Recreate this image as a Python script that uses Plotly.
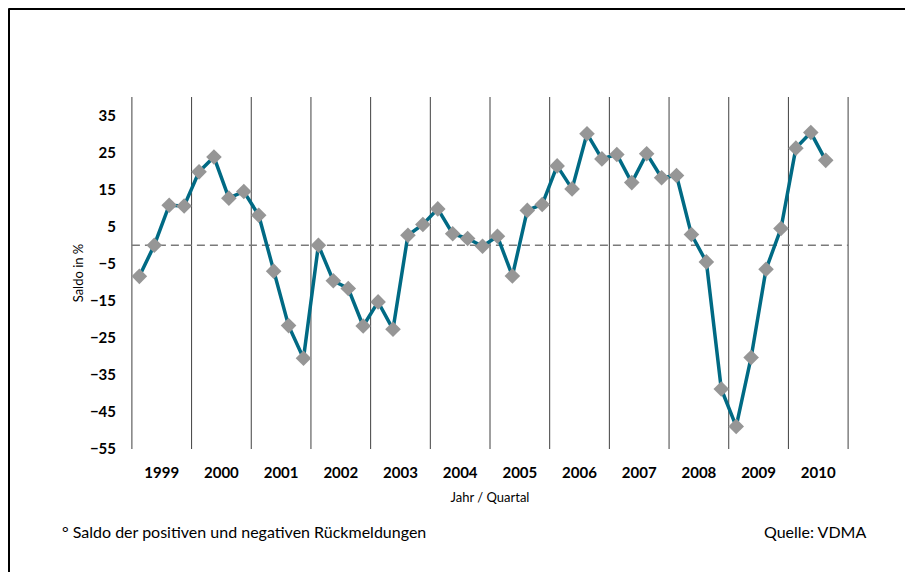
import plotly.graph_objects as go

years = ["1999", "2000", "2001", "2002", "2003", "2004", "2005", "2006",
         "2007", "2008", "2009", "2010"]
quarters = ["Q1", "Q2", "Q3", "Q4"]
saldo = [
    -8.4, 0.0, 10.8, 10.6,      # 1999
    19.8, 23.8, 12.7, 14.5,     # 2000
    8.1, -7.0, -21.7, -30.5,    # 2001
    0.0, -9.6, -11.7, -21.8,    # 2002
    -15.3, -22.7, 2.7, 5.6,     # 2003
    9.8, 3.1, 1.8, -0.3,        # 2004
    2.4, -8.3, 9.4, 11.0,       # 2005
    21.4, 15.2, 30.1, 23.3,     # 2006
    24.5, 16.9, 24.7, 18.2,     # 2007
    18.8, 2.9, -4.5, -38.8,     # 2008
    -48.9, -30.3, -6.5, 4.5,    # 2009
    26.2, 30.4, 22.9,           # 2010
]
y_ticks = [-55, -45, -35, -25, -15, -5, 5, 15, 25, 35]

x_idx = list(range(len(saldo)))
n_slots = len(years) * len(quarters)
year_centers = [i * 4 + 1.5 for i in range(len(years))]
year_bounds = [i * 4 - 0.5 for i in range(len(years) + 1)]

FONT = "Lato, Calibri, Carlito, sans-serif"

fig = go.Figure()
fig.add_trace(go.Scatter(
    x=x_idx, y=saldo, mode="lines+markers",
    line=dict(color="#006A84", width=3.5),
    marker=dict(symbol="diamond", size=12, color="#969696",
                line=dict(width=0)),
    showlegend=False, hoverinfo="y",
))

OFF = 8  # page body margin
W, H = 913 - OFF, 572 - OFF
L, R, T, B = 131 - OFF, 64, 97 - OFF, 123
pw, ph = W - L - R, H - T - B

def px_x(page_px):
    return (page_px - OFF - L) / pw

def px_y(page_py):
    return (H - B - (page_py - OFF)) / ph

# vertical year-boundary lines
shapes = [
    dict(type="line", xref="x", yref="paper", x0=b, x1=b, y0=0, y1=1,
         layer="below", line=dict(color="#404040", width=1))
    for b in year_bounds
]
shapes += [
    dict(type="line", xref="x", yref="y", x0=-0.5, x1=n_slots - 0.5,
         y0=0, y1=0, layer="below",
         line=dict(color="#7a7a7a", width=1.5, dash="8px,5px")),
    dict(type="line", xref="paper", yref="paper",
         x0=px_x(8.5), x1=px_x(930), y0=px_y(8.5), y1=px_y(8.5),
         line=dict(color="black", width=3)),
    dict(type="line", xref="paper", yref="paper",
         x0=px_x(8.5), x1=px_x(8.5), y0=px_y(8.5), y1=px_y(590),
         line=dict(color="black", width=3)),
]

fig.update_layout(
    width=W, height=H,
    margin=dict(l=L, r=R, t=T, b=B, pad=0),
    paper_bgcolor="white", plot_bgcolor="white",
    font=dict(family=FONT, color="black"),
    xaxis=dict(
        range=[-0.56, n_slots - 0.44],
        tickvals=year_centers, ticktext=years,
        tickfont=dict(size=15, family=FONT, weight="bold"),
        showgrid=False, zeroline=False, showline=False,
        ticks="", ticklabelstandoff=13,
        title=dict(text="Jahr / Quartal", font=dict(size=13, family=FONT),
                   standoff=12),
        fixedrange=True,
    ),
    yaxis=dict(
        range=[-55, 40],
        tickvals=y_ticks,
        tickfont=dict(size=15, family=FONT, weight="bold"),
        showgrid=False, zeroline=False, showline=False,
        ticks="", ticklabelstandoff=14,
        title=dict(text="Saldo in %", font=dict(size=13, family=FONT),
                   standoff=3),
        fixedrange=True,
    ),
    shapes=shapes,
    annotations=[
        dict(text="° Saldo der positiven und negativen Rückmeldungen",
             xref="paper", yref="paper", x=px_x(60), y=px_y(531),
             xanchor="left", yanchor="middle", showarrow=False,
             font=dict(size=16, family=FONT)),
        dict(text="Quelle: VDMA",
             xref="paper", yref="paper", x=px_x(868), y=px_y(531),
             xanchor="right", yanchor="middle", showarrow=False,
             font=dict(size=16, family=FONT)),
    ],
)

fig.write_html("out.html")
